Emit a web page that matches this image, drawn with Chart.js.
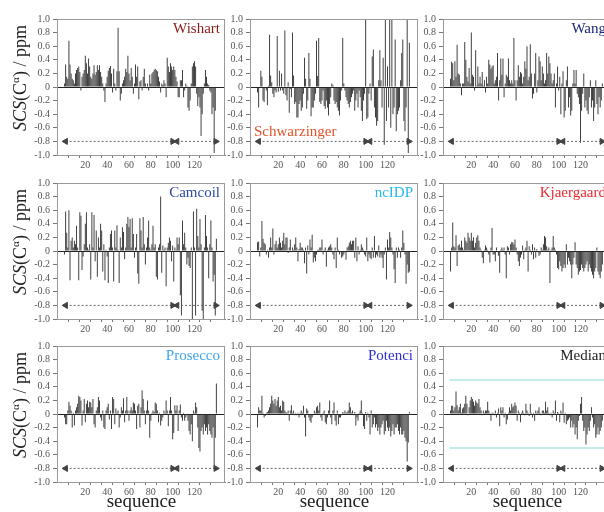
<!DOCTYPE html>
<html>
<head>
<meta charset="utf-8">
<script src="https://cdn.jsdelivr.net/npm/chart.js@4.4.1/dist/chart.umd.min.js"></script>
<style>
  html, body { margin: 0; padding: 0; background: #fff; }
  body { width: 604px; height: 512px; position: relative; overflow: hidden; font-family: 'Liberation Serif', 'DejaVu Serif', serif; }
  canvas.panel { position: absolute; }
  .method { position: absolute; font-size: 15px; line-height: 16px; white-space: nowrap; }
  .ytitle { position: absolute; width: 140px; height: 22px; line-height: 22px; text-align: center; font-size: 18px; color: #222; transform: rotate(-90deg); white-space: nowrap; }
  .ytitle sup { font-size: 11px; line-height: 0; }
  .xtitle { position: absolute; width: 120px; text-align: center; font-size: 19px; line-height: 20px; color: #222; }
</style>
</head>
<body>
<script>
// ===================== Data =====================
// SCS(Cα) per residue (1..140)
const WISHART = [
  0.05, 0.33, 0.15, 0.12, 0.68, 0.33, 0.2, 0.12, 0.1, 0.05,
  0.2, 0.25, 0.28, 0.3, 0.22, -0.05, 0.15, 0.2, 0.25, 0.46,
  0.35, 0.2, 0.42, 0.3, 0.15, 0.12, 0.2, 0.32, 0.18, 0.22,
  0.32, 0.25, 0.32, 0.22, 0.15, 0.05, -0.05, -0.22, 0.05, 0.15,
  0.24, 0.28, 0.31, 0.2, -0.08, 0.27, 0.05, -0.05, 0.23, 0.87,
  0.23, -0.2, -0.1, 0.05, 0.1, 0.15, 0.27, 0.22, 0.46, 0.2,
  0.1, 0.28, 0.15, -0.1, 0.05, 0.33, 0.15, 0.3, -0.18, 0.08,
  0.1, -0.05, 0.15, 0.27, 0.05, -0.02, 0.05, -0.05, 0.18, 0.05,
  0.2, 0.22, 0.25, 0.27, 0.25, 0.23, 0.15, 0.08, -0.08, 0.05,
  0.03, 0.1, 0.05, -0.15, 0.43, 0.3, 0.22, 0.35, 0.3, 0.25,
  0.3, 0.25, 0.15, 0.08, -0.15, -0.15, 0.1, 0.1, 0.25, -0.15,
  -0.05, 0.05, 0.02, -0.3, -0.35, -0.2, 0.05, 0.3, 0.35, 0.38,
  0.3, -0.1, -0.28, -0.15, -0.3, -0.72, -0.4, -0.1, 0.05, 0.25,
  0.15, 0.05, 0.03, -0.05, -0.08, -0.4, -0.3, -0.97, -0.35, 0.0,
];
const SCHWARZINGER = [
  -0.08, -0.3, 0.0, 0.24, 0.15, -0.2, -0.22, -0.02, -0.05, -0.27,
  0.02, 0.77, 0.17, 0.07, -0.1, -0.15, -0.05, -0.08, 0.75, -0.07,
  0.24, -0.05, 0.2, -0.05, -0.1, 0.83, -0.12, -0.2, 0.07, -0.38,
  -0.03, -0.15, 0.8, 0.17, -0.25, -0.22, -0.45, -0.45, -0.25, -0.2,
  -0.35, -0.3, -0.1, 0.43, 0.12, -0.32, -0.2, 0.5, 0.12, -0.43,
  -0.3, -0.3, -0.2, -0.1, 0.68, 0.16, 0.72, -0.22, -0.25, -0.2,
  -0.05, -0.28, -0.32, -0.2, -0.3, -0.42, -0.25, -0.15, 0.05, 0.03,
  -0.2, -0.25, -0.22, -0.3, -0.35, -0.42, -0.2, -0.05, 0.72, 0.05,
  -0.05, -0.15, -0.2, -0.25, -0.3, -0.22, -0.15, -0.1, -0.05, -0.35,
  -0.2, -0.1, -0.3, -0.05, -0.15, -0.35, -0.5, -0.2, -0.1, 1.0,
  -0.47, -0.45, -0.1, 0.05, -0.2, 0.45, 0.55, -0.3, -0.45, -0.57,
  -0.5, 0.1, 0.54, 0.1, -0.3, 0.43, -0.85, 1.0, -0.5, 0.3,
  -0.3, 1.0, -0.6, 1.0, -0.4, -0.3, 0.7, -0.65, -0.4, -0.35,
  -0.3, 0.1, 0.5, 0.7, -0.5, -0.65, -0.3, 1.0, -0.97, 0.65,
];
const WANG = [
  0.12, 0.37, 0.35, 0.1, 0.38, 0.15, 0.62, 0.2, 0.18, 0.05,
  -0.12, 0.05, 0.05, 0.66, 0.4, 0.15, 0.08, 0.28, 0.05, 0.8,
  0.18, 0.15, -0.05, 0.54, 0.02, 0.3, 0.05, 0.15, 0.05, 0.22,
  0.02, 0.1, -0.08, 0.15, 0.05, 0.4, 0.33, 0.27, 0.3, 0.32,
  0.05, 0.1, 0.15, 0.5, -0.2, 0.1, 0.42, 0.18, 0.42, -0.15,
  0.05, 0.18, 0.15, 0.42, 0.1, 0.05, 0.1, 0.05, 0.72, 0.1,
  -0.2, 0.1, 0.32, 0.15, 0.22, 0.2, 0.05, 0.15, 0.38, 0.27,
  0.6, 0.1, 0.15, 0.63, 0.2, -0.17, -0.1, 0.2, 0.5, -0.08,
  0.1, 0.45, 0.38, 0.1, 0.3, 0.2, 0.05, 0.1, 0.5, 0.2,
  0.45, 0.35, 0.2, 0.05, 0.1, 0.2, -0.3, 0.05, 0.3, -0.05,
  0.15, -0.4, 0.05, 0.23, -0.45, -0.35, 0.1, 0.3, -0.3, -0.15,
  -0.42, -0.35, 0.05, 0.25, 0.05, 0.25, -0.1, -0.15, -0.25, -0.82,
  -0.35, -0.1, 0.2, -0.3, -0.2, -0.35, -0.4, -0.15, 0.1, -0.3,
  -0.2, -0.5, -0.3, 0.1, -0.25, -0.4, -0.15, -0.3, -0.2, 0.05,
];
const CAMCOIL = [
  -0.05, 0.58, 0.27, 0.05, 0.6, -0.43, 0.15, 0.2, 0.05, 0.15,
  0.1, 0.37, 0.05, -0.43, 0.57, 0.52, -0.28, -0.08, 0.1, 0.4,
  0.57, 0.05, 0.02, 0.1, -0.42, 0.57, 0.05, 0.53, -0.15, 0.3,
  -0.38, 0.2, 0.05, 0.4, 0.3, -0.3, 0.1, -0.43, 0.02, -0.08,
  -0.47, 0.05, 0.25, 0.3, 0.05, -0.45, 0.3, 0.05, 0.38, 0.02,
  -0.47, 0.2, 0.05, 0.35, 0.28, -0.12, 0.05, 0.4, 0.5, 0.35,
  0.47, 0.05, 0.48, 0.25, -0.1, 0.05, 0.25, -0.33, -0.48, 0.48,
  0.3, 0.05, 0.5, 0.1, -0.2, 0.05, 0.2, 0.45, 0.05, 0.02,
  0.1, 0.37, 0.05, 0.1, -0.38, -0.42, 0.05, 0.1, 0.8, -0.32,
  0.08, 0.02, 0.05, -0.52, 0.05, 0.12, 0.2, 0.15, -0.15, 0.08,
  -0.45, 0.05, 0.02, 0.2, 0.1, 0.2, -0.65, -0.95, 0.45, 0.1,
  0.27, 0.05, -0.2, -0.1, -0.22, -0.25, 0.05, -1.0, 0.58, 0.05,
  -0.95, 0.62, 0.22, 0.05, 0.47, 0.1, -0.88, -1.0, 0.05, 0.53,
  0.22, 0.05, -0.4, 0.1, 0.45, 0.05, -0.45, -0.35, -0.95, 0.18,
];
const NCIDP = [
  0.13, 0.14, -0.08, 0.05, 0.44, 0.18, 0.12, 0.1, -0.05, 0.02,
  -0.1, 0.05, 0.2, 0.05, 0.33, -0.05, 0.1, 0.15, 0.05, 0.1,
  0.2, 0.12, 0.05, 0.15, 0.27, 0.1, 0.2, 0.2, -0.03, 0.05,
  0.17, -0.02, 0.05, 0.02, 0.1, 0.2, 0.05, -0.15, 0.03, 0.12,
  0.05, 0.05, 0.02, -0.18, 0.05, -0.33, 0.08, -0.05, 0.17, 0.05,
  0.24, -0.17, -0.1, -0.15, -0.05, 0.02, 0.02, 0.05, 0.05, 0.17,
  -0.05, 0.02, 0.05, -0.23, 0.02, 0.05, 0.07, 0.1, 0.05, -0.05,
  -0.12, 0.05, -0.25, 0.2, 0.02, -0.05, -0.02, -0.1, -0.08, -0.05,
  -0.02, -0.13, 0.05, 0.07, 0.12, 0.15, 0.1, 0.15, 0.15, -0.1,
  0.2, -0.15, 0.07, -0.05, 0.02, 0.1, 0.05, 0.02, -0.05, -0.08,
  0.2, -0.15, -0.05, -0.1, -0.12, 0.05, -0.1, 0.22, -0.1, -0.05,
  -0.08, 0.08, -0.1, -0.05, -0.1, -0.25, -0.05, 0.05, -0.42, 0.17,
  0.05, 0.28, 0.2, 0.05, -0.05, -0.27, -0.47, 0.05, -0.1, 0.05,
  0.02, -0.1, 0.05, 0.3, 0.12, -0.05, -0.48, -0.2, -0.32, -0.3,
];
const KJAERGAARD = [
  -0.3, 0.05, 0.42, 0.07, 0.05, 0.23, -0.22, 0.08, 0.1, 0.05,
  0.15, 0.05, 0.02, 0.2, 0.15, 0.12, 0.27, 0.2, 0.15, 0.27,
  0.15, 0.2, 0.05, 0.12, 0.2, 0.23, 0.15, 0.05, 0.02, -0.1,
  -0.18, 0.02, 0.08, 0.05, 0.02, -0.05, -0.17, 0.05, 0.34, -0.05,
  -0.05, -0.15, 0.05, -0.02, -0.07, -0.32, 0.02, 0.05, 0.02, 0.05,
  -0.05, -0.4, 0.07, 0.05, -0.05, 0.1, 0.13, 0.13, 0.1, 0.17,
  0.05, -0.05, -0.15, -0.22, -0.1, -0.05, 0.08, -0.12, 0.02, 0.05,
  0.15, -0.3, 0.07, 0.02, -0.05, 0.1, -0.12, 0.05, -0.1, 0.03,
  -0.02, -0.07, -0.05, 0.05, 0.02, 0.1, 0.22, 0.2, 0.07, 0.02,
  0.05, -0.47, 0.02, 0.05, 0.22, 0.05, 0.02, -0.05, -0.25, -0.27,
  -0.15, -0.22, -0.3, -0.25, -0.2, -0.25, 0.1, -0.2, -0.1, -0.15,
  -0.2, -0.4, -0.2, -0.1, 0.13, -0.2, -0.25, -0.35, -0.3, -0.28,
  -0.2, -0.25, -0.3, -0.25, -0.2, -0.15, -0.3, -0.2, -0.25, -0.3,
  -0.35, -0.4, -0.3, -0.25, 0.05, -0.3, -0.35, -0.4, -0.3, -0.2,
];
const PROSECCO = [
  -0.05, -0.15, -0.15, 0.05, 0.18, 0.12, 0.05, -0.2, 0.02, -0.17,
  0.05, 0.1, 0.15, 0.27, 0.25, 0.2, -0.17, 0.05, 0.22, -0.12,
  0.15, 0.2, 0.1, 0.18, 0.17, 0.1, 0.22, -0.15, -0.2, 0.05,
  0.1, 0.25, 0.2, -0.05, -0.1, 0.05, -0.2, -0.22, 0.05, 0.1,
  0.15, -0.08, 0.05, -0.22, 0.25, 0.22, -0.15, 0.08, 0.02, 0.05,
  -0.2, -0.05, 0.1, 0.05, 0.23, -0.12, 0.05, 0.25, 0.05, -0.1,
  0.05, 0.1, 0.05, 0.17, 0.15, 0.05, -0.22, 0.12, 0.15, -0.2,
  0.1, 0.35, 0.22, 0.05, -0.15, 0.05, 0.2, 0.05, -0.35, -0.1,
  0.02, 0.05, 0.03, 0.17, 0.15, 0.05, -0.12, 0.02, -0.17, -0.1,
  -0.05, 0.05, 0.02, 0.2, 0.05, -0.18, 0.05, 0.25, 0.05, -0.37,
  -0.28, 0.13, 0.05, 0.13, -0.25, 0.05, 0.14, -0.05, -0.1, 0.02,
  -0.1, -0.05, -0.02, -0.1, -0.25, -0.3, -0.15, -0.4, 0.05, 0.02,
  0.17, 0.1, -0.2, -0.5, -0.55, -0.25, -0.2, -0.3, -0.15, -0.25,
  -0.2, -0.3, -0.15, -0.25, -0.3, -0.35, -0.2, -0.8, -0.35, 0.45,
];
const POTENCI = [
  -0.2, 0.1, 0.05, 0.05, 0.27, 0.02, -0.05, -0.03, 0.02, 0.03,
  0.05, 0.1, 0.15, 0.27, 0.2, 0.15, 0.22, 0.12, 0.2, 0.25,
  0.1, 0.12, 0.05, 0.2, 0.18, 0.05, 0.03, 0.02, 0.05, -0.1,
  0.05, 0.13, 0.02, 0.05, -0.02, 0.02, -0.02, 0.02, -0.05, 0.02,
  0.05, 0.02, 0.12, -0.05, -0.33, 0.08, 0.05, -0.05, -0.1, -0.13,
  -0.05, -0.02, 0.05, 0.02, 0.1, 0.12, 0.05, 0.17, -0.05, -0.1,
  0.02, 0.05, -0.12, -0.15, -0.05, 0.05, 0.2, -0.05, -0.15, 0.05,
  0.17, -0.1, -0.17, 0.05, -0.15, -0.05, -0.05, -0.02, 0.03, 0.02,
  0.05, 0.02, 0.03, 0.05, 0.17, 0.1, 0.02, 0.05, -0.02, 0.03,
  -0.17, -0.05, -0.1, 0.02, 0.05, 0.2, 0.02, -0.18, -0.22, 0.03,
  -0.1, 0.02, -0.05, -0.3, 0.05, -0.2, -0.15, -0.05, -0.2, -0.15,
  -0.25, -0.2, -0.3, -0.2, -0.15, -0.1, -0.3, -0.25, -0.1, -0.2,
  -0.25, -0.2, -0.33, -0.25, -0.15, -0.3, -0.2, -0.2, -0.15, -0.25,
  -0.3, -0.2, -0.3, -0.3, -0.25, -0.35, -0.4, -0.7, -0.42, 0.03,
];
const MEDIAN = [
  0.05, 0.12, 0.12, 0.05, 0.1, 0.33, 0.13, 0.05, 0.1, 0.15,
  0.02, 0.08, 0.1, 0.15, 0.27, 0.15, -0.02, 0.1, 0.2, 0.25,
  0.22, 0.18, 0.12, 0.2, 0.17, 0.15, 0.22, 0.1, 0.05, -0.02,
  0.05, 0.02, 0.05, 0.05, 0.18, 0.05, 0.02, -0.1, 0.02, 0.02,
  -0.02, 0.05, -0.05, 0.02, 0.08, -0.18, 0.1, 0.05, 0.1, -0.05,
  0.02, -0.15, -0.08, 0.02, 0.1, 0.05, 0.15, 0.1, 0.12, 0.17,
  0.12, -0.1, 0.05, 0.02, -0.12, 0.02, 0.05, 0.02, -0.02, 0.15,
  0.05, 0.02, -0.03, 0.15, 0.02, -0.05, 0.02, -0.1, 0.05, 0.02,
  0.05, 0.1, 0.02, -0.02, 0.05, 0.05, 0.02, 0.18, 0.05, 0.1,
  0.02, -0.02, 0.02, -0.05, 0.05, 0.02, 0.2, -0.1, 0.03, 0.02,
  -0.12, 0.05, 0.02, 0.17, -0.13, 0.02, -0.15, -0.1, -0.08, -0.05,
  -0.2, -0.1, -0.2, -0.15, -0.3, -0.2, -0.37, -0.1, -0.03, 0.15,
  0.25, -0.1, -0.25, -0.2, -0.45, -0.3, -0.2, -0.25, -0.1, 0.1,
  -0.05, -0.2, -0.15, -0.35, -0.3, -0.2, -0.3, -0.25, -0.2, -0.1,
];

const X_TICK_LABELS = [20, 40, 60, 80, 100, 120];
const X_MINOR_TICKS = [10, 20, 30, 40, 50, 60, 70, 80, 90, 100, 110, 120, 130];
const ARROW_SEGMENTS = [[2, 100], [104, 139.5]]; // residue spans of the two domains
const ARROW_Y = -0.8;
const MEDIAN_BANDS = [0.5, -0.5];

// name, colour, values, grid cell, where the name sits
const PANELS = [
  { name: 'Wishart',      color: '#8b1c1c', values: WISHART,      col: 0, row: 0, pos: 'tr' },
  { name: 'Schwarzinger', color: '#e4522a', values: SCHWARZINGER, col: 1, row: 0, pos: 'bl' },
  { name: 'Wang',         color: '#1c2878', values: WANG,         col: 2, row: 0, pos: 'tr' },
  { name: 'Camcoil',      color: '#2c4aa6', values: CAMCOIL,      col: 0, row: 1, pos: 'tr' },
  { name: 'ncIDP',        color: '#28b8ee', values: NCIDP,        col: 1, row: 1, pos: 'tr' },
  { name: 'Kjaergaard',   color: '#ec2a2e', values: KJAERGAARD,   col: 2, row: 1, pos: 'tr' },
  { name: 'Prosecco',     color: '#3ea6f0', values: PROSECCO,     col: 0, row: 2, pos: 'tr' },
  { name: 'Potenci',      color: '#2f2fd6', values: POTENCI,      col: 1, row: 2, pos: 'tr' },
  { name: 'Median',       color: '#222222', values: MEDIAN,       col: 2, row: 2, pos: 'tr', bands: true },
];

// ===================== Layout =====================
const PLOT_LEFT = [57, 250, 443];
const PLOT_TOP = [16, 180, 343];
const PLOT_W = 169;
const PLOT_H = 139;
const Y_AXIS_W = 40;
const X_AXIS_H = 20;
const PAD_TOP = 6;
const PAD_RIGHT = 4;

const framePlugin = {
  id: 'frame',
  afterDraw(chart) {
    const { ctx, chartArea: a } = chart;
    ctx.save();
    ctx.strokeStyle = '#9a9a9a';
    ctx.lineWidth = 1;
    ctx.strokeRect(Math.round(a.left) + 0.5, Math.round(a.top) + 0.5, Math.round(a.width) - 1, Math.round(a.height));
    ctx.restore();
  },
};

// ===================== Build =====================
document.addEventListener('DOMContentLoaded', () => {
  PANELS.forEach(buildPanel);
  [0, 1, 2].forEach(addYTitle);
  [0, 1, 2].forEach(addXTitle);
});

function buildPanel(p) {
  const canvas = document.createElement('canvas');
  canvas.className = 'panel';
  const w = Y_AXIS_W + PLOT_W + PAD_RIGHT;
  const h = PAD_TOP + PLOT_H + X_AXIS_H;
  canvas.width = w;
  canvas.height = h;
  canvas.style.width = w + 'px';
  canvas.style.height = h + 'px';
  canvas.style.left = (PLOT_LEFT[p.col] - Y_AXIS_W) + 'px';
  canvas.style.top = (PLOT_TOP[p.row] - PAD_TOP) + 'px';
  document.body.appendChild(canvas);

  const datasets = [{
    type: 'bar',
    data: p.values.map((v, i) => ({ x: i + 1, y: v })),
    backgroundColor: '#333',
    borderWidth: 0,
    barPercentage: 0.85,
    categoryPercentage: 1,
    order: 3,
  }];

  ARROW_SEGMENTS.forEach(([a, b]) => {
    datasets.push({
      type: 'line',
      data: [{ x: a, y: ARROW_Y }, { x: b, y: ARROW_Y }],
      borderColor: '#666',
      borderWidth: 1,
      borderDash: [2, 2],
      pointStyle: 'triangle',
      pointRadius: 3.5,
      pointRotation: [-90, 90],
      pointBackgroundColor: '#444',
      pointBorderColor: '#444',
      order: 1,
    });
  });

  if (p.bands) {
    MEDIAN_BANDS.forEach(y => {
      datasets.push({
        type: 'line',
        data: [{ x: 0, y }, { x: 142, y }],
        borderColor: '#8fd8cf',
        borderWidth: 1,
        pointRadius: 0,
        order: 2,
      });
    });
  }

  new Chart(canvas.getContext('2d'), {
    type: 'bar',
    data: { datasets },
    options: {
      responsive: false,
      animation: false,
      layout: { padding: { top: PAD_TOP, right: PAD_RIGHT, left: 0, bottom: 0 } },
      plugins: { legend: { display: false }, tooltip: { enabled: false } },
      scales: {
        x: {
          type: 'linear',
          min: 0,
          max: 142,
          afterFit: s => { s.height = X_AXIS_H; },
          afterBuildTicks: s => { s.ticks = X_MINOR_TICKS.map(v => ({ value: v })); },
          grid: { drawOnChartArea: false, tickLength: 3, tickColor: '#777' },
          border: { color: '#777' },
          ticks: {
            autoSkip: false,
            maxRotation: 0,
            padding: 1,
            color: '#555',
            font: { family: 'Liberation Serif', size: 10 },
            callback: v => X_TICK_LABELS.includes(v) ? String(v) : '',
          },
        },
        y: {
          min: -1,
          max: 1,
          afterFit: s => { s.width = Y_AXIS_W; },
          grid: {
            tickLength: 4,
            tickColor: '#777',
            color: c => (c.tick && Math.abs(c.tick.value) < 1e-9) ? '#222' : 'rgba(0,0,0,0)',
          },
          border: { color: '#666' },
          ticks: {
            stepSize: 0.2,
            autoSkip: false,
            padding: 3,
            color: '#555',
            font: { family: 'Liberation Serif', size: 10 },
            callback: v => Math.abs(v) < 1e-9 ? '0' : v.toFixed(1),
          },
        },
      },
    },
    plugins: [framePlugin],
  });

  addMethodLabel(p);
}

function addMethodLabel(p) {
  const el = document.createElement('div');
  el.className = 'method';
  el.textContent = p.name;
  el.style.color = p.color;
  if (p.pos === 'bl') {
    el.style.left = (PLOT_LEFT[p.col] + 4) + 'px';
    el.style.top = (PLOT_TOP[p.row] + 107) + 'px';
  } else {
    el.style.width = '120px';
    el.style.textAlign = 'right';
    el.style.left = (PLOT_LEFT[p.col] + PLOT_W - 6 - 120) + 'px';
    el.style.top = (PLOT_TOP[p.row] + 4) + 'px';
  }
  document.body.appendChild(el);
}

function addYTitle(row) {
  const el = document.createElement('div');
  el.className = 'ytitle';
  el.innerHTML = '<i>SCS</i>(C<sup>α</sup>) / ppm';
  const cy = PLOT_TOP[row] + PLOT_H / 2 - 8;
  el.style.left = (20 - 70) + 'px';
  el.style.top = (cy - 11) + 'px';
  document.body.appendChild(el);
}

function addXTitle(col) {
  const el = document.createElement('div');
  el.className = 'xtitle';
  el.textContent = 'sequence';
  el.style.left = (PLOT_LEFT[col] + PLOT_W / 2 - 60) + 'px';
  el.style.top = '491px';
  document.body.appendChild(el);
}
</script>
</body>
</html>
